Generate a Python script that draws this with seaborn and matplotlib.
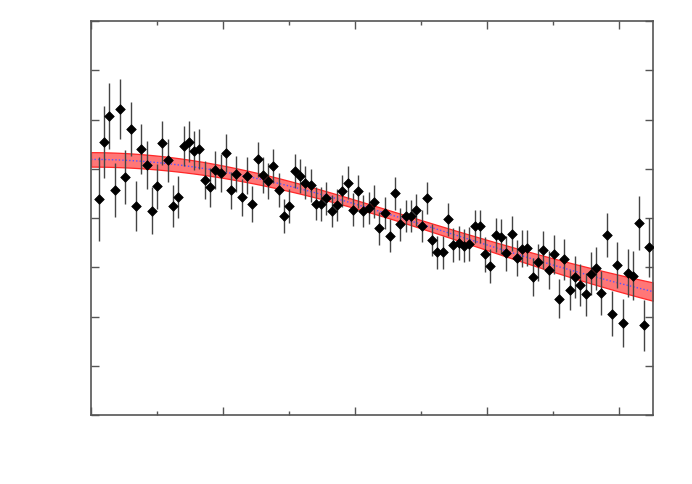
import numpy as np
import pandas as pd
import seaborn as sns
import matplotlib
matplotlib.use("Agg")
import matplotlib.pyplot as plt

# measured values (y) and their uncertainties
y_vals = [4.39, 5.54, 6.08, 4.57, 6.21, 4.83, 5.81, 4.25, 5.40, 5.08,
          4.15, 4.64, 5.52, 5.17, 4.25, 4.42, 5.46, 5.55, 5.37, 5.40,
          4.77, 4.62, 4.98, 4.91, 5.32, 4.56, 4.89, 4.42, 4.86, 4.28,
          5.19, 4.87, 4.75, 5.06, 4.57, 4.04, 4.24, 4.95, 4.85, 4.72,
          4.66, 4.29, 4.28, 4.40, 4.14, 4.26, 4.55, 4.72, 4.17, 4.54,
          4.14, 4.20, 4.33, 3.79, 4.10, 3.64, 4.50, 3.87, 4.04, 4.04,
          4.16, 3.84, 4.41, 3.55, 3.30, 3.30, 3.97, 3.45, 3.49, 3.44,
          3.47, 3.83, 3.83, 3.26, 3.03, 3.66, 3.62, 3.28, 3.68, 3.19,
          3.38, 3.39, 2.80, 3.10, 3.35, 2.94, 3.26, 2.36, 3.16, 2.54,
          2.80, 2.64, 2.45, 2.87, 2.98, 2.48, 3.66, 2.06, 3.05, 1.87,
          2.89, 2.83, 3.90, 1.82, 3.41]
y_err = [0.85, 0.73, 0.67, 0.55, 0.61, 0.55, 0.55, 0.51, 0.51, 0.49,
         0.47, 0.45, 0.45, 0.43, 0.43, 0.43, 0.41, 0.41, 0.40, 0.40,
         0.39, 0.39, 0.39, 0.38, 0.38, 0.38, 0.37, 0.37, 0.37, 0.36,
         0.36, 0.36, 0.36, 0.35, 0.35, 0.35, 0.35, 0.35, 0.34, 0.34,
         0.34, 0.34, 0.34, 0.34, 0.33, 0.33, 0.33, 0.33, 0.33, 0.33,
         0.33, 0.33, 0.33, 0.33, 0.33, 0.33, 0.33, 0.33, 0.33, 0.33,
         0.33, 0.33, 0.33, 0.33, 0.33, 0.33, 0.33, 0.34, 0.34, 0.34,
         0.34, 0.34, 0.34, 0.35, 0.35, 0.35, 0.35, 0.36, 0.36, 0.36,
         0.37, 0.37, 0.38, 0.38, 0.39, 0.39, 0.40, 0.40, 0.41, 0.41,
         0.42, 0.42, 0.43, 0.43, 0.44, 0.45, 0.45, 0.46, 0.47, 0.48,
         0.49, 0.50, 0.55, 0.52, 0.60]
x_start, x_step = 0.06, 0.0401

# model: y = base + amp * exp(-x^2 / (2 width^2))
base, amp, width = 1.42, 3.77, 2.7
band_scale = 2.2

x_vals = x_start + x_step * np.arange(len(y_vals))
df = pd.DataFrame({"x": x_vals, "y": y_vals, "err": y_err})

# covariance of (base, amp) from a weighted linear fit -> band
g = np.exp(-df.x.values ** 2 / (2 * width ** 2))
A = np.column_stack([np.ones_like(g), g]) / np.array(y_err)[:, None]
cov = np.linalg.inv(A.T @ A)

xf = np.linspace(0, 4.26, 300)
gf = np.exp(-xf ** 2 / (2 * width ** 2))
yf = base + amp * gf
J = np.column_stack([np.ones_like(gf), gf])
sf = np.sqrt(np.einsum("ij,jk,ik->i", J, cov, J)) * band_scale
fit = pd.DataFrame({"x": xf, "y": yf})

sns.set_style("ticks")
fig = plt.figure(figsize=(6.92, 4.85), dpi=100)
ax = fig.add_axes([91 / 692, 1 - 416 / 485, 562 / 692, 394 / 485])

ax.fill_between(xf, yf - sf, yf + sf, color="#ff7070", alpha=0.95,
                edgecolor="#ff2020", linewidth=0.9, zorder=1)
sns.lineplot(data=fit, x="x", y="y", ax=ax, color="#5555ff",
             linestyle=(0, (1, 1.5)), linewidth=1.0, zorder=2)

ax.errorbar(df.x, df.y, yerr=df.err, fmt="none", ecolor="#444444",
            elinewidth=1.0, capsize=0, zorder=3)
sns.scatterplot(data=df, x="x", y="y", ax=ax, marker="D", s=24,
                color="black", edgecolor="black", linewidth=0.5, zorder=4)

ax.set_xlim(0, 4.26)
ax.set_ylim(0, 8)
ax.set_xticks([0, 1, 2, 3, 4])
ax.set_xticks([0.5, 1.5, 2.5, 3.5], minor=True)
ax.set_yticks(range(0, 9))
ax.tick_params(which="both", direction="in", top=True, right=True,
               labelbottom=False, labelleft=False, color="#555555", width=1)
ax.tick_params(which="major", length=6)
ax.tick_params(which="minor", length=3)
for s in ax.spines.values():
    s.set_color("#555555")
    s.set_linewidth(1.2)
ax.set_xlabel("")
ax.set_ylabel("")

fig.savefig("out.png", dpi=100)
